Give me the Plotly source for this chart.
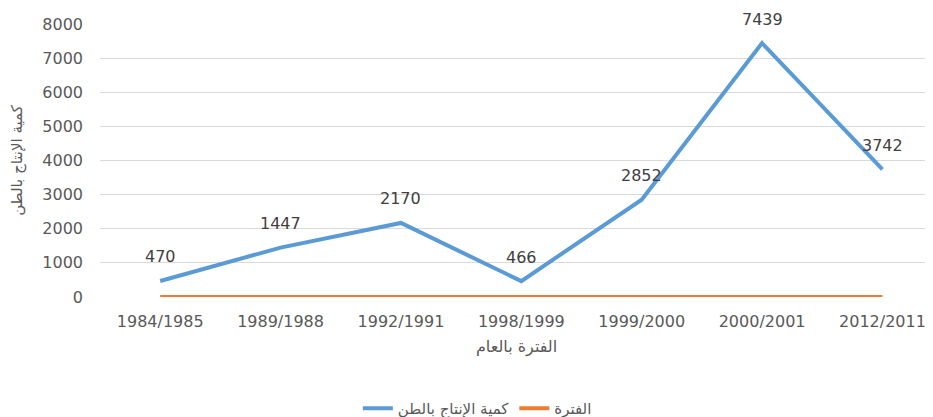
import plotly.graph_objects as go

categories = ["1984/1985", "1989/1988", "1992/1991", "1998/1999", "1999/2000", "2000/2001", "2012/2011"]
production = [470, 1447, 2170, 466, 2852, 7439, 3742]
period = [0, 0, 0, 0, 0, 0, 0]

blue = "#5B9BD5"
orange = "#ED7D31"
font_family = "DejaVu Sans, sans-serif"

fig = go.Figure()
fig.add_trace(go.Scatter(x=categories, y=production, mode="lines",
                         name="كمية الإنتاج بالطن",
                         line=dict(color=blue, width=4)))
fig.add_trace(go.Scatter(x=categories, y=period, mode="lines",
                         name="الفترة",
                         line=dict(color=orange, width=4)))

for c, v in zip(categories, production):
    fig.add_annotation(x=c, y=v, text=str(v), showarrow=False, yshift=24,
                       font=dict(size=16, color="#404040", family=font_family))

fig.update_layout(
    width=925, height=417,
    margin=dict(l=92, r=0, t=16, b=121),
    paper_bgcolor="white", plot_bgcolor="white",
    font=dict(family=font_family, color="#595959"),
    showlegend=True,
    legend=dict(orientation="h", x=0.453, xanchor="center", y=-0.409, yanchor="middle",
                font=dict(size=15, color="#595959"), traceorder="normal"),
    xaxis=dict(type="category", range=[-0.5, 6.42], showgrid=False, zeroline=False,
               showline=False, automargin=False, tickfont=dict(size=16, color="#595959"),
               ticklabelstandoff=13,
               title=dict(text="الفترة بالعام", font=dict(size=16, color="#595959"), standoff=10)),
    yaxis=dict(range=[0, 8000], dtick=1000, showgrid=True, gridcolor="#D9D9D9", gridwidth=1,
               zeroline=False, showline=False, automargin=False,
               tickfont=dict(size=16, color="#595959"), ticklabelstandoff=16,
               title=dict(text="كمية الإنتاج بالطن", font=dict(size=15, color="#595959"), standoff=22)),
)

fig.write_html("out.html")
